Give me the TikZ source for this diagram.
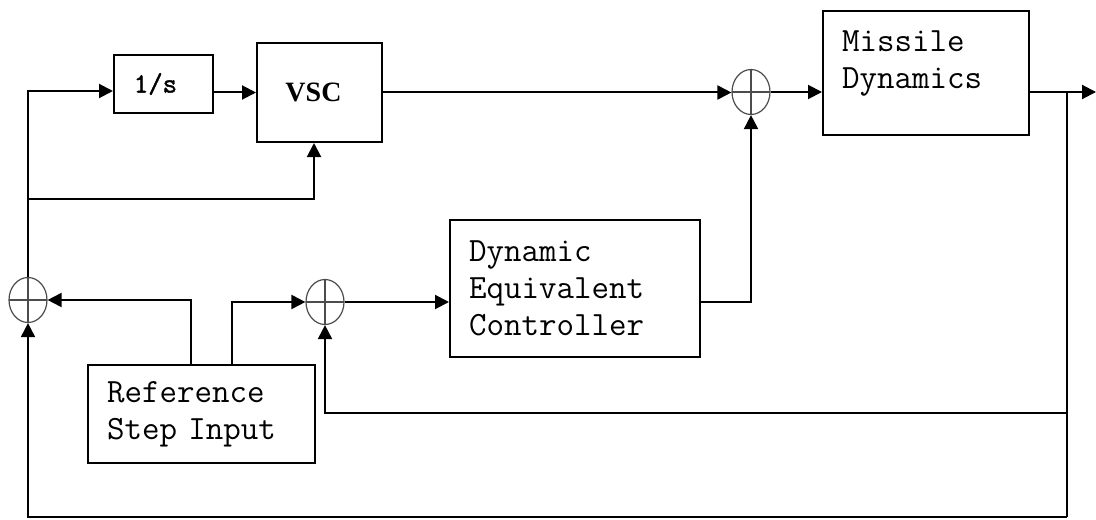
\documentclass[tikz,border=0pt]{standalone}
\usepackage{fontspec}
\usetikzlibrary{arrows.meta,shapes.geometric}
\newfontfamily\monofont{Latin Modern Mono}
\newfontfamily\monobold{Latin Modern Mono}[FakeBold=1.5]
\newfontfamily\romfont{Liberation Serif}
\tikzset{every path/.style={line width=1pt},
  >={Triangle[length=7pt,width=7pt]},
  blk/.style={draw, align=left, inner xsep=9.5pt, inner ysep=0pt,
    font=\monofont\fontsize{17}{18.5}\selectfont},
  sum/.style={draw=black!70, line width=0.6pt, ellipse, inner sep=0pt,
    minimum width=19pt, minimum height=22.5pt,
    path picture={\draw[black!70,line width=0.6pt]
      (path picture bounding box.north) -- (path picture bounding box.south)
      (path picture bounding box.west) -- (path picture bounding box.east);}}}

\begin{document}
\begin{tikzpicture}[x=0.5pt,y=-0.5pt]
    \useasboundingbox (0,0) rectangle (1096,519);

    \node[draw, minimum width=49.5pt, minimum height=29pt,
      font=\monobold\fontsize{14}{15}\selectfont] (integ) at (163.5,84) {1/s\kern8pt};
    \node[draw, minimum width=62.5pt, minimum height=49.5pt,
      font=\romfont\bfseries\fontsize{14}{16}\selectfont] (vsc) at (319.5,92.5) {VSC\kern6pt};
    \node[blk, text width=84pt, minimum height=62pt, text depth=32pt] (missile) at (926,73) {Missile\\Dynamics};
    \node[blk, text width=106pt, minimum height=68.5pt] (dec) at (575,288.5) {Dynamic\\Equivalent\\Controller};
    \node[blk, text width=94.5pt, minimum height=49pt] (ref) at (201.5,414) {Reference\\Step Input};

    \node[sum] (sumtop) at (751,92) {};
    \node[sum] (sumleft) at (28,300) {};
    \node[sum] (summid) at (325,302) {};

    \coordinate (tap) at (28,199);
    \coordinate (fb) at (1067,92);
    \coordinate (out) at (1096,92);
    \coordinate (fbmid) at (1067,413);
    \coordinate (bot) at (1067,517);

    \draw[->] (sumleft.north) |- ([yshift=-3.5pt]integ.west);
    \draw[->] (tap) -| ([xshift=-2.75pt]vsc.south);
    \draw[->] (integ.east |- vsc.west) -- (vsc.west);
    \draw[->] (vsc.east) -- (vsc.east -| sumtop.west);
    \draw[->] (sumtop.east) -- (sumtop.east -| missile.west);
    \draw[->] (sumtop.east -| missile.east) -- (out);
    \draw (fb) -- (bot);
    \draw[->] (bot) -| (sumleft.south);
    \draw[->] (fbmid) -| (summid.south);
    \draw[->] ([xshift=-5.25pt]ref.north) |- (sumleft.east);
    \draw[->] ([xshift=15.25pt]ref.north) |- (summid.west);
    \draw[->] (summid.east) -- (summid.east -| dec.west);
    \draw[->] (dec.east |- summid.east) -| (sumtop.south);
  \end{tikzpicture}
\end{document}
